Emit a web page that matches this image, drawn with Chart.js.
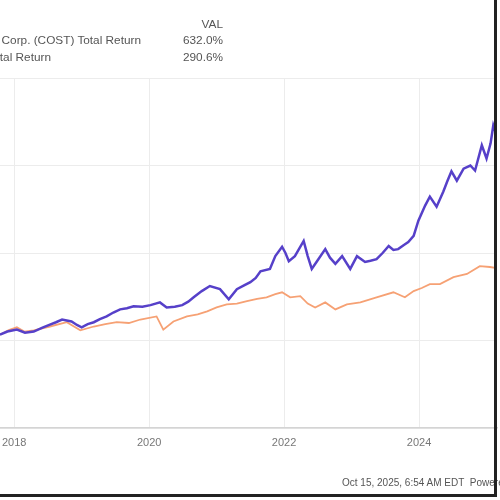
<!DOCTYPE html>
<html>
<head>
<meta charset="utf-8">
<script src="https://cdn.jsdelivr.net/npm/chart.js@4"></script>
<style>
  html, body { margin: 0; padding: 0; background: #fff; }
  #wrap { position: relative; width: 500px; height: 500px; overflow: hidden; font-family: "Liberation Sans", Arial, sans-serif; }
  #frame { position: absolute; left: -3px; top: -3px; width: 497px; height: 497px; border-right: 3px solid #222; border-bottom: 3px solid #222; pointer-events: none; }
  .lg { position: absolute; font-size: 11.8px; color: #555; white-space: nowrap; text-align: right; }
  #foot { position: absolute; left: 342px; top: 477px; font-size: 10px; color: #555; white-space: nowrap; }
</style>
</head>
<body>
<div id="wrap">
  <canvas id="myChart" width="500" height="500"></canvas>
  <div class="lg" style="left:150px; width:73px; top:17px;">VAL</div>
  <div class="lg" style="left:-300px; width:441px; top:33px;">Costco Wholesale Corp. (COST) Total Return</div>
  <div class="lg" style="left:150px; width:73px; top:33px;">632.0%</div>
  <div class="lg" style="left:-300px; width:351px; top:50px;">S&amp;P 500 Total Return</div>
  <div class="lg" style="left:150px; width:73px; top:50px;">290.6%</div>
  <div id="foot">Oct 15, 2025, 6:54 AM EDT&nbsp; Powered by YCharts</div>
  <div id="frame"></div>
</div>
<script>
// years (decimal) and total return (%)
var costYears = [2017.79, 2017.90, 2018.04, 2018.16, 2018.29, 2018.42, 2018.53, 2018.62, 2018.71, 2018.85,
  2018.93, 2019.00, 2019.09, 2019.18, 2019.27, 2019.37, 2019.47, 2019.57, 2019.67, 2019.77,
  2019.90, 2020.02, 2020.16, 2020.26, 2020.38, 2020.49, 2020.58, 2020.66, 2020.78, 2020.90,
  2021.05, 2021.18, 2021.30, 2021.40, 2021.50, 2021.58, 2021.65, 2021.79, 2021.87, 2021.97,
  2022.02, 2022.07, 2022.16, 2022.29, 2022.35, 2022.41, 2022.48, 2022.61, 2022.68, 2022.76,
  2022.86, 2022.98, 2023.08, 2023.20, 2023.28, 2023.37, 2023.46, 2023.55, 2023.62, 2023.69,
  2023.77, 2023.84, 2023.92, 2023.99, 2024.09, 2024.16, 2024.26, 2024.36, 2024.42, 2024.48,
  2024.56, 2024.66, 2024.76, 2024.83, 2024.93, 2025.00, 2025.06, 2025.10, 2025.15];
var costReturn = [120, 128, 133, 125, 128, 138, 146, 152, 159, 154,
  145, 139, 147, 152, 160, 167, 177, 185, 188, 193,
  192, 196, 203, 190, 192, 196, 205, 216, 232, 245,
  237, 211, 237, 246, 255, 266, 283, 289, 322, 346,
  330, 309, 322, 361, 322, 289, 307, 340, 318, 302,
  322, 289, 322, 307, 310, 314, 330, 348, 338, 340,
  350, 358, 374, 413, 452, 475, 449, 488, 515, 540,
  516, 547, 555, 542, 607, 573, 612, 658, 632];

var spxYears = [2017.79, 2017.92, 2018.04, 2018.15, 2018.29, 2018.53, 2018.78, 2018.98, 2019.18, 2019.35,
  2019.52, 2019.70, 2019.87, 2020.11, 2020.21, 2020.36, 2020.56, 2020.72, 2020.86, 2021.00,
  2021.15, 2021.30, 2021.45, 2021.60, 2021.74, 2021.87, 2021.97, 2022.09, 2022.24, 2022.35,
  2022.46, 2022.61, 2022.76, 2022.93, 2023.13, 2023.37, 2023.62, 2023.79, 2023.92, 2024.04,
  2024.16, 2024.31, 2024.51, 2024.71, 2024.90, 2025.05, 2025.15];
var spxReturn = [120, 132, 139, 128, 131, 141, 152, 131, 141, 147,
  152, 150, 159, 167, 133, 154, 167, 172, 180, 190,
  198, 200, 206, 212, 216, 224, 229, 216, 219, 200,
  190, 203, 185, 198, 203, 216, 229, 216, 232, 240,
  250, 250, 268, 276, 296, 294, 291];

var xTicks = [2018, 2020, 2022, 2024];
var yGrid = [-120, 105, 330, 555, 780];

function pts(xs, ys) {
  return xs.map(function (x, i) { return { x: x, y: ys[i] }; });
}

var ctx = document.getElementById('myChart').getContext('2d');
var myChart = new Chart(ctx, {
  type: 'line',
  data: {
    datasets: [{
      label: 'Costco Wholesale Corp. (COST) Total Return',
      data: pts(costYears, costReturn),
      borderColor: '#5640c9',
      borderWidth: 2.5,
      pointRadius: 0,
      tension: 0
    }, {
      label: 'S&P 500 Total Return',
      data: pts(spxYears, spxReturn),
      borderColor: '#f6a174',
      borderWidth: 1.8,
      pointRadius: 0,
      tension: 0
    }]
  },
  options: {
    responsive: false,
    animation: false,
    layout: { padding: { top: 78, right: 3, left: 0, bottom: 0 } },
    plugins: { legend: { display: false }, tooltip: { enabled: false } },
    scales: {
      x: {
        type: 'linear',
        min: 2017.79,
        max: 2025.155,
        afterBuildTicks: function (axis) {
          axis.ticks = xTicks.map(function (v) { return { value: v }; });
        },
        afterFit: function (scale) {
          scale.height = 72;
          scale.paddingLeft = 0;
          scale.paddingRight = 0;
        },
        ticks: {
          color: '#777',
          font: { family: 'Liberation Sans', size: 11 },
          padding: 8,
          maxRotation: 0,
          callback: function (v) { return String(v); }
        },
        grid: { color: '#ececec', drawTicks: false },
        border: { color: '#d4d4d4', width: 1.5 }
      },
      y: {
        min: -120,
        max: 780,
        afterBuildTicks: function (axis) {
          axis.ticks = yGrid.map(function (v) { return { value: v }; });
        },
        afterFit: function (scale) { scale.width = 0; },
        ticks: { display: false },
        grid: { color: '#ececec', drawTicks: false },
        border: { display: false }
      }
    }
  }
});
</script>
</body>
</html>
